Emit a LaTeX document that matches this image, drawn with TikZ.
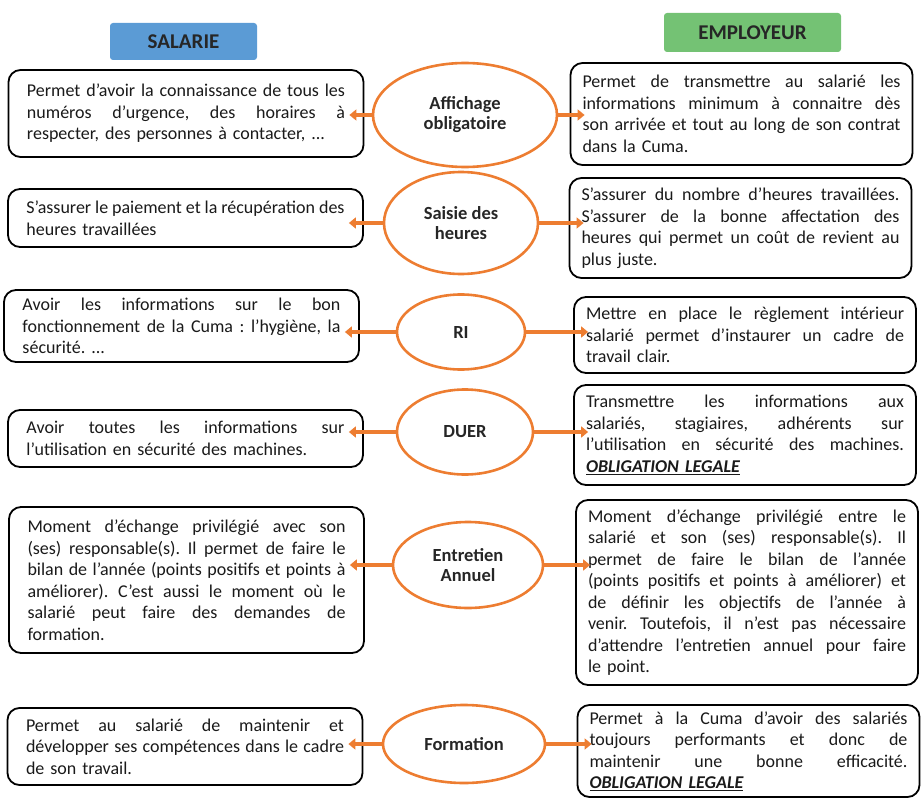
\documentclass[tikz,border=0pt]{standalone}
\usepackage{fontspec}
\setmainfont{Carlito}
\usepackage{tikz}
\usetikzlibrary{positioning}
\usetikzlibrary{shapes.geometric}
\usetikzlibrary{arrows.meta}
\usepackage{xcolor}
\definecolor{cumaorange}{HTML}{ED7D31}
\definecolor{salblue}{HTML}{5B9BD5}
\definecolor{empgreen}{HTML}{74C274}
\definecolor{txtgray}{HTML}{1A1A1A}
\frenchspacing
\newlength{\txtw}
\setlength{\txtw}{318pt}
\newcommand{\jl}[1]{{\spaceskip=0pt\xspaceskip=0pt\makebox[\txtw][s]{#1}}} % one justified line of a box
\newcommand{\oblig}{\textbf{\textit{\underline{OBLIGATION LEGALE}}}}

\begin{document}
\begin{tikzpicture}[x=1pt, y=-1pt,
    header/.style={rounded corners=3pt, font=\fontsize{21}{24}\selectfont\bfseries, text=black!85},
    txtbox/.style={draw=black, line width=1.8pt, rounded corners=12pt, fill=white, text=txtgray,
        text width=\txtw, align=left, font=\fontsize{18}{21.5}\selectfont},
    salbox/.style={txtbox, minimum width=355pt, inner xsep=18.5pt},
    empbox/.style={txtbox, minimum width=342pt, inner xsep=12pt},
    theme/.style={ellipse, draw=cumaorange, line width=2.6pt, align=center, inner sep=0pt,
        font=\fontsize{18.5}{20}\selectfont\bfseries, text=black!85},
    conn/.style={draw=cumaorange, line width=3.5pt, -{Triangle[length=7pt,width=11pt]}, shorten >=-15pt}]

        % Frame
        \useasboundingbox (0,0) rectangle (922,800);

        % Headers
        \node[header, fill=salblue, minimum width=147pt, minimum height=37pt] (salarie) at (183.5,41.5) {SALARIE};
        \node[header, fill=empgreen, minimum width=177pt, minimum height=39pt] (employeur) at (752.5,32.5) {EMPLOYEUR};

        % Themes
        \node[theme, minimum width=184pt, minimum height=104pt] (th1) at (465,115) {Affichage\\obligatoire};
        \node[theme, minimum width=154pt, minimum height=102pt] (th2) at (461,223) {Saisie des\\heures};
        \node[theme, minimum width=128pt, minimum height=75pt] (th3) at (461,332) {RI};
        \node[theme, minimum width=136pt, minimum height=85pt] (th4) at (465,432) {DUER};
        \node[theme, minimum width=150pt, minimum height=86pt] (th5) at (468,565) {Entretien\\Annuel};
        \node[theme, minimum width=162pt, minimum height=78pt] (th6) at (464,744) {Formation};

        % Salarie side
        \node[salbox, minimum height=87pt] (sal1) at (186,113.5) {%
            \jl{Permet d’avoir la connaissance de tous les}\\
            \jl{numéros d’urgence, des horaires à}\\
            respecter, des personnes à contacter, ...};
        \node[salbox, minimum height=58pt] (sal2) at (185.5,218) {%
            \jl{S’assurer le paiement et la récupération des}\\
            heures travaillées};
        \node[salbox, minimum height=72pt] (sal3) at (181.5,326) {%
            \jl{Avoir les informations sur le bon}\\
            \jl{fonctionnement de la Cuma : l’hygiène, la}\\
            sécurité. ...};
        \node[salbox, minimum height=57pt] (sal4) at (185.5,438.5) {%
            \jl{Avoir toutes les informations sur}\\
            l’utilisation en sécurité des machines.};
        \node[salbox, minimum height=146pt] (sal5) at (186.5,580) {%
            \jl{Moment d’échange privilégié avec son}\\
            \jl{(ses) responsable(s). Il permet de faire le}\\
            \jl{bilan de l’année (points positifs et points à}\\
            \jl{améliorer). C’est aussi le moment où le}\\
            \jl{salarié peut faire des demandes de}\\
            formation.};
        \node[salbox, minimum height=77pt] (sal6) at (185,746.5) {%
            \jl{Permet au salarié de maintenir et}\\
            \jl{développer ses compétences dans le cadre}\\
            de son travail.};

        % Employeur side
        \node[empbox, minimum height=102pt] (emp1) at (741.5,114) {%
            \jl{Permet de transmettre au salarié les}\\
            \jl{informations minimum à connaitre dès}\\
            \jl{son arrivée et tout au long de son contrat}\\
            dans la Cuma.};
        \node[empbox, minimum height=100pt] (emp2) at (740.5,228) {%
            \jl{S’assurer du nombre d’heures travaillées.}\\
            \jl{S’assurer de la bonne affectation des}\\
            \jl{heures qui permet un coût de revient au}\\
            plus juste.};
        \node[empbox, minimum height=76pt] (emp3) at (745,335) {%
            \jl{Mettre en place le règlement intérieur}\\
            \jl{salarié permet d’instaurer un cadre de}\\
            travail clair.};
        \node[empbox, minimum height=100pt] (emp4) at (745,435) {%
            \jl{Transmettre les informations aux}\\
            \jl{salariés, stagiaires, adhérents sur}\\
            \jl{l’utilisation en sécurité des machines.}\\
            \oblig};
        \node[empbox, minimum height=185pt] (emp5) at (747,592.5) {%
            \jl{Moment d’échange privilégié entre le}\\
            \jl{salarié et son (ses) responsable(s). Il}\\
            \jl{permet de faire le bilan de l’année}\\
            \jl{(points positifs et points à améliorer) et}\\
            \jl{de définir les objectifs de l’année à}\\
            \jl{venir. Toutefois, il n’est pas nécessaire}\\
            \jl{d’attendre l’entretien annuel pour faire}\\
            le point.};
        \node[empbox, minimum height=92pt] (emp6) at (748.5,751) {%
            \jl{Permet à la Cuma d’avoir des salariés}\\
            \jl{toujours performants et donc de}\\
            \jl{maintenir une bonne efficacité.}\\
            \oblig};

        % Arrows
        \foreach \i in {1,...,6} {
            \draw[conn] (th\i.west) -- (th\i.west -| sal\i.east);
            \draw[conn] (th\i.east) -- (th\i.east -| emp\i.west);
        }
    \end{tikzpicture}
\end{document}
